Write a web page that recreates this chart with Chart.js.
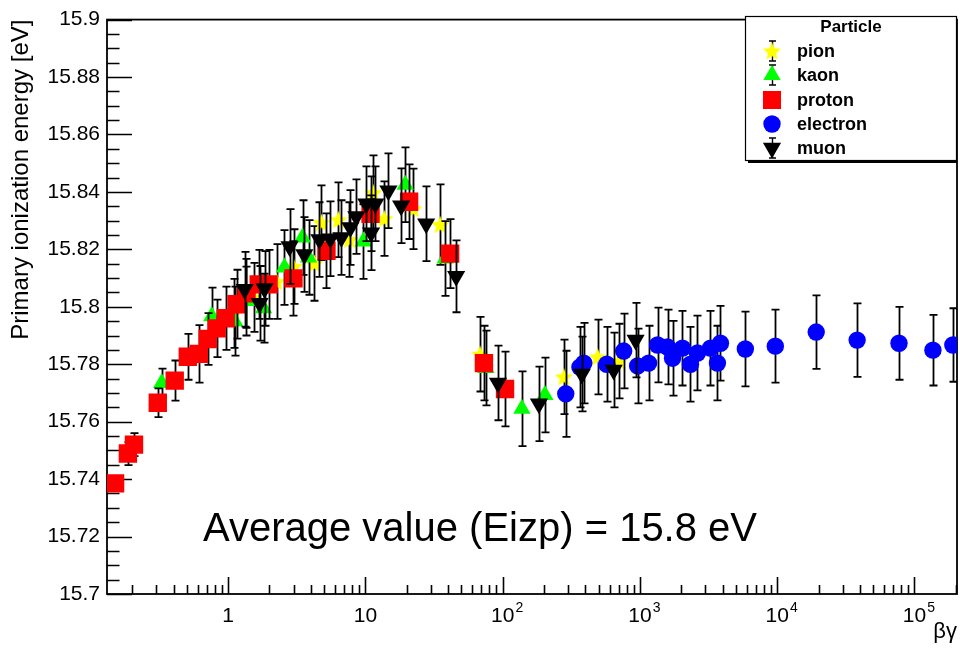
<!DOCTYPE html>
<html>
<head>
<meta charset="utf-8">
<script src="https://cdn.jsdelivr.net/npm/chart.js@4.4.1/dist/chart.umd.min.js"></script>
<style>
html,body{margin:0;padding:0;background:#fff;overflow:hidden;}
#wrap{width:960px;height:650px;position:relative;}
canvas{display:block;}
</style>
</head>
<body>
<div id="wrap"><canvas id="c"></canvas></div>
<script>
// ---------------- DATA ----------------
const PION_X   = [1.10, 1.53, 2.25, 3.0, 4.25, 4.78, 6.35, 7.64, 11.4, 13.7, 22.3, 35.0, 68.4, 279, 492, 700];
const PION_Y   = [15.7977, 15.8033, 15.8088, 15.8140, 15.8151, 15.8293, 15.8303, 15.8234, 15.8397, 15.8307, 15.8341, 15.8286, 15.7835, 15.7756, 15.7825, 15.7811];
const PION_ERR = [0.012, 0.012, 0.013, 0.013, 0.013, 0.013, 0.013, 0.013, 0.013, 0.013, 0.014, 0.014, 0.013, 0.013, 0.013, 0.013];

const KAON_X   = [0.328, 0.759, 1.115, 1.36, 1.81, 2.57, 3.48, 3.85, 9.66, 19.5, 38.1, 75.6, 138, 203];
const KAON_Y   = [15.7735, 15.7967, 15.7950, 15.8020, 15.7995, 15.8137, 15.8241, 15.8172, 15.8227, 15.8425, 15.8168, 15.7787, 15.7645, 15.7693];
const KAON_ERR = [0.005, 0.010, 0.012, 0.012, 0.012, 0.013, 0.013, 0.013, 0.013, 0.013, 0.013, 0.013, 0.013, 0.013];

const PROTON_X   = [0.150, 0.186, 0.206, 0.307, 0.408, 0.508, 0.611, 0.710, 0.825, 0.96, 1.15, 1.36, 1.67, 1.97, 2.99, 5.2, 10.9, 20.8, 41.4, 73, 104];
const PROTON_Y   = [15.7385, 15.7489, 15.7520, 15.7666, 15.7743, 15.7826, 15.7836, 15.7888, 15.7925, 15.7960, 15.8009, 15.8047, 15.8078, 15.8078, 15.8099, 15.8195, 15.8324, 15.8366, 15.8185, 15.7804, 15.7714];
const PROTON_ERR = [0.002, 0.004, 0.004, 0.005, 0.007, 0.008, 0.010, 0.009, 0.010, 0.011, 0.012, 0.012, 0.012, 0.012, 0.013, 0.013, 0.013, 0.013, 0.012, 0.013, 0.013];

const ELECTRON_X   = [288, 365, 390, 573, 761, 962, 1156, 1344, 1588, 1727, 2040, 2333, 2623, 3262, 3668, 3857, 5857, 9683, 19230, 38200, 77100, 136200, 190300];
const ELECTRON_Y   = [15.7697, 15.7790, 15.7804, 15.7800, 15.7846, 15.7794, 15.7804, 15.7867, 15.7860, 15.7821, 15.7856, 15.7800, 15.7839, 15.7856, 15.7804, 15.7873, 15.7853, 15.7863, 15.7912, 15.7884, 15.7873, 15.7849, 15.7867];
const ELECTRON_ERR = [0.015, 0.014, 0.014, 0.013, 0.013, 0.013, 0.013, 0.013, 0.013, 0.013, 0.013, 0.013, 0.013, 0.013, 0.013, 0.013, 0.013, 0.0127, 0.0128, 0.0128, 0.0127, 0.0123, 0.0128];

const MUON_X   = [1.318, 1.694, 1.84, 2.80, 3.59, 4.62, 5.55, 6.68, 7.77, 8.58, 10.15, 11.0, 11.8, 14.7, 18.2, 27.7, 45.8, 92.4, 183.6, 377, 643, 929];
const MUON_Y   = [15.8061, 15.8012, 15.8064, 15.8210, 15.8182, 15.8234, 15.8237, 15.8241, 15.8276, 15.8314, 15.8359, 15.8258, 15.8359, 15.8404, 15.8352, 15.8289, 15.8106, 15.7735, 15.7662, 15.7766, 15.7780, 15.7884];
const MUON_ERR = [0.013, 0.013, 0.013, 0.013, 0.013, 0.013, 0.013, 0.013, 0.013, 0.013, 0.013, 0.013, 0.013, 0.013, 0.013, 0.013, 0.0125, 0.013, 0.013, 0.013, 0.013, 0.013];

const SERIES_NAMES = ['pion', 'kaon', 'proton', 'electron', 'muon'];
const LEGEND_TITLE = 'Particle';
const ANNOTATION = 'Average value (Eizp) = 15.8 eV';
const Y_TITLE = 'Primary ionization energy [eV]';
const X_TITLE = 'βγ';

const Y_MIN = 15.7, Y_MAX = 15.9, Y_MINOR_STEP = 0.005;
const Y_TICKS = [15.7, 15.72, 15.74, 15.76, 15.78, 15.8, 15.82, 15.84, 15.86, 15.88, 15.9];
const Y_TICK_LABELS = ['15.7', '15.72', '15.74', '15.76', '15.78', '15.8', '15.82', '15.84', '15.86', '15.88', '15.9'];
const X_MIN = 0.131, X_MAX = 2.04e5;
const X_TICKS = [1, 10, 100, 1000, 10000, 100000];
const X_TICK_BASE = ['1', '10', '10', '10', '10', '10'];
const X_TICK_EXP  = ['', '', '2', '3', '4', '5'];

// ---------------- STYLE ----------------
const FONT = "'Liberation Sans', Arial, Helvetica, sans-serif";

function makeStar(rOuter, rInner, color) {
  const c = document.createElement('canvas');
  const s = Math.ceil(rOuter * 2 + 2);
  c.width = s; c.height = s;
  const g = c.getContext('2d');
  g.fillStyle = color;
  g.beginPath();
  for (let i = 0; i < 10; i++) {
    const r = (i % 2) ? rInner : rOuter;
    const a = -Math.PI / 2 + i * Math.PI / 5;
    g.lineTo(s / 2 + r * Math.cos(a), s / 2 + r * Math.sin(a) + 0.8);
  }
  g.closePath();
  g.fill();
  return c;
}
const STAR = makeStar(9.5, 4.3, '#ffff00');

function pts(xs, ys) { return xs.map((v, i) => ({x: v, y: ys[i]})); }

const datasets = [
  {label: SERIES_NAMES[0], data: pts(PION_X, PION_Y), errors: PION_ERR, pointStyle: STAR, pointRadius: 9, backgroundColor: '#ffff00', borderWidth: 0, order: 5},
  {label: SERIES_NAMES[1], data: pts(KAON_X, KAON_Y), errors: KAON_ERR, pointStyle: 'triangle', pointRadius: 10, backgroundColor: '#00ff00', borderColor: '#00ff00', borderWidth: 0, order: 4},
  {label: SERIES_NAMES[2], data: pts(PROTON_X, PROTON_Y), errors: PROTON_ERR, pointStyle: 'rect', pointRadius: 13, backgroundColor: '#ff0000', borderColor: '#ff0000', borderWidth: 0, order: 3},
  {label: SERIES_NAMES[3], data: pts(ELECTRON_X, ELECTRON_Y), errors: ELECTRON_ERR, pointStyle: 'circle', pointRadius: 8.7, backgroundColor: '#0000ff', borderColor: '#0000ff', borderWidth: 0, order: 2},
  {label: SERIES_NAMES[4], data: pts(MUON_X, MUON_Y), errors: MUON_ERR, pointStyle: 'triangle', pointRotation: 180, pointRadius: 10.5, backgroundColor: '#000000', borderColor: '#000000', borderWidth: 0, order: 1}
];

const rootPlugin = {
  id: 'rootStyle',
  beforeDatasetsDraw(chart) {
    const {ctx, chartArea: a, scales: {x, y}} = chart;
    ctx.save();
    ctx.strokeStyle = '#000';
    ctx.lineWidth = 1.8;
    ctx.strokeRect(a.left, a.top, a.right - a.left, a.bottom - a.top);
    ctx.lineWidth = 1.6;
    ctx.beginPath();
    const n = Math.round((Y_MAX - Y_MIN) / Y_MINOR_STEP);
    for (let k = 0; k <= n; k++) {
      const v = Y_MIN + k * Y_MINOR_STEP;
      const py = Math.round(y.getPixelForValue(v)) + 0.5;
      const len = (k % 4 === 0) ? 25 : 12.5;
      ctx.moveTo(a.left, py); ctx.lineTo(a.left + len, py);
    }
    for (let e = -1; e <= 5; e++) {
      for (let m = 1; m <= 9; m++) {
        const v = m * Math.pow(10, e);
        if (v < X_MIN || v > X_MAX) continue;
        const px = Math.round(x.getPixelForValue(v)) + 0.5;
        ctx.moveTo(px, a.bottom); ctx.lineTo(px, a.bottom - (m === 1 ? 17 : 9));
      }
    }
    ctx.stroke();
    // x tick labels
    ctx.fillStyle = '#000';
    ctx.textBaseline = 'middle';
    X_TICKS.forEach((v, i) => {
      const px = x.getPixelForValue(v);
      ctx.font = '21px ' + FONT;
      ctx.textAlign = 'center';
      const base = X_TICK_BASE[i];
      const w = ctx.measureText(base).width;
      ctx.fillText(base, px, a.bottom + 22);
      if (X_TICK_EXP[i]) {
        ctx.font = '14px ' + FONT;
        ctx.textAlign = 'left';
        ctx.fillText(X_TICK_EXP[i], px + w / 2 + 1, a.bottom + 14);
      }
    });
    ctx.restore();
  },
  beforeDatasetDraw(chart, args) {
    const ds = chart.data.datasets[args.index];
    if (!ds.errors) return;
    const {ctx, chartArea: a, scales: {x, y}} = chart;
    ctx.save();
    ctx.beginPath();
    ctx.rect(a.left, a.top, a.right - a.left, a.bottom - a.top);
    ctx.clip();
    ctx.strokeStyle = '#000';
    ctx.lineWidth = 1.8;
    ctx.beginPath();
    ds.data.forEach((p, i) => {
      const e = ds.errors[i];
      const px = Math.round(x.getPixelForValue(p.x)) + 0.5;
      const y1 = y.getPixelForValue(p.y + e);
      const y2 = y.getPixelForValue(p.y - e);
      ctx.moveTo(px, y1); ctx.lineTo(px, y2);
      ctx.moveTo(px - 4, y1); ctx.lineTo(px + 4, y1);
      ctx.moveTo(px - 4, y2); ctx.lineTo(px + 4, y2);
    });
    ctx.stroke();
    ctx.restore();
  },
  afterDraw(chart) {
    const {ctx} = chart;
    ctx.save();
    // annotation
    ctx.fillStyle = '#000';
    ctx.font = '40px ' + FONT;
    ctx.textAlign = 'center';
    ctx.textBaseline = 'middle';
    ctx.fillText(ANNOTATION, 480, 530);
    // legend
    const L = {left: 745, top: 16, right: 957, bottom: 160};
    ctx.fillStyle = '#000';
    ctx.fillRect(L.left + 3, L.bottom, L.right - L.left - 3, 3);
    ctx.fillStyle = '#fff';
    ctx.fillRect(L.left, L.top, L.right - L.left, L.bottom - L.top);
    ctx.strokeStyle = '#000';
    ctx.lineWidth = 1.2;
    ctx.strokeRect(L.left + 0.5, L.top + 0.5, L.right - L.left - 1, L.bottom - L.top);
    ctx.fillStyle = '#000';
    ctx.font = 'bold 17px ' + FONT;
    ctx.textAlign = 'center';
    ctx.fillText(LEGEND_TITLE, 851, 27);
    const rows = [51, 75, 100, 124, 148];
    const mx = 772;
    ctx.font = 'bold 18px ' + FONT;
    ctx.textAlign = 'left';
    rows.forEach((ry, i) => {
      const ds = chart.data.datasets[i];
      ctx.strokeStyle = '#000';
      ctx.lineWidth = 1.4;
      if (i === 0 || i === 1 || i === 4) {
        ctx.beginPath();
        const top = ry - 10, bot = ry + 10;
        ctx.moveTo(mx + 0.5, top); ctx.lineTo(mx + 0.5, bot);
        ctx.moveTo(mx - 3, top); ctx.lineTo(mx + 4, top);
        ctx.moveTo(mx - 3, bot); ctx.lineTo(mx + 4, bot);
        ctx.stroke();
      }
      ctx.fillStyle = ds.backgroundColor;
      if (i === 0) {
        ctx.drawImage(STAR, mx - STAR.width / 2, ry - STAR.height / 2);
      } else if (i === 1) {
        const r = 10;
        ctx.beginPath();
        ctx.moveTo(mx, ry - r);
        ctx.lineTo(mx + r * 0.866, ry + r / 2);
        ctx.lineTo(mx - r * 0.866, ry + r / 2);
        ctx.closePath(); ctx.fill();
      } else if (i === 2) {
        ctx.fillRect(mx - 9, ry - 9, 18, 18);
      } else if (i === 3) {
        ctx.beginPath(); ctx.arc(mx, ry, 8.7, 0, Math.PI * 2); ctx.fill();
      } else {
        const r = 10.5;
        ctx.beginPath();
        ctx.moveTo(mx, ry + r);
        ctx.lineTo(mx + r * 0.866, ry - r / 2);
        ctx.lineTo(mx - r * 0.866, ry - r / 2);
        ctx.closePath(); ctx.fill();
      }
      ctx.fillStyle = '#000';
      ctx.fillText(ds.label, 797, ry + 1);
    });
    ctx.restore();
  }
};

new Chart(document.getElementById('c'), {
  type: 'scatter',
  data: {datasets},
  options: {
    responsive: true,
    maintainAspectRatio: false,
    animation: false,
    events: [],
    layout: {autoPadding: false, padding: {top: 17, right: 3, left: 0, bottom: 0}},
    plugins: {legend: {display: false}, tooltip: {enabled: false}},
    scales: {
      x: {
        type: 'logarithmic', min: X_MIN, max: X_MAX,
        afterBuildTicks: s => { s.ticks = X_TICKS.map(v => ({value: v})); },
        afterFit: s => { s.height = 56; },
        ticks: {display: false},
        grid: {display: false, drawTicks: false},
        border: {display: false},
        title: {display: true, text: X_TITLE, align: 'end', color: '#000', font: {family: FONT, size: 22}, padding: {top: 0, bottom: 5}}
      },
      y: {
        type: 'linear', min: Y_MIN, max: Y_MAX,
        afterBuildTicks: s => { s.ticks = Y_TICKS.map(v => ({value: v})); },
        afterFit: s => { s.width = 107; },
        ticks: {
          color: '#000', padding: 7, font: {family: FONT, size: 21},
          callback: (v) => { const i = Y_TICKS.findIndex(t => Math.abs(t - v) < 1e-9); return i >= 0 ? Y_TICK_LABELS[i] : ''; }
        },
        grid: {display: false, drawTicks: false},
        border: {display: false},
        title: {display: true, text: Y_TITLE, align: 'end', color: '#000', font: {family: FONT, size: 24}, padding: {top: 7, bottom: 0}}
      }
    }
  },
  plugins: [rootPlugin]
});
</script>
</body>
</html>
